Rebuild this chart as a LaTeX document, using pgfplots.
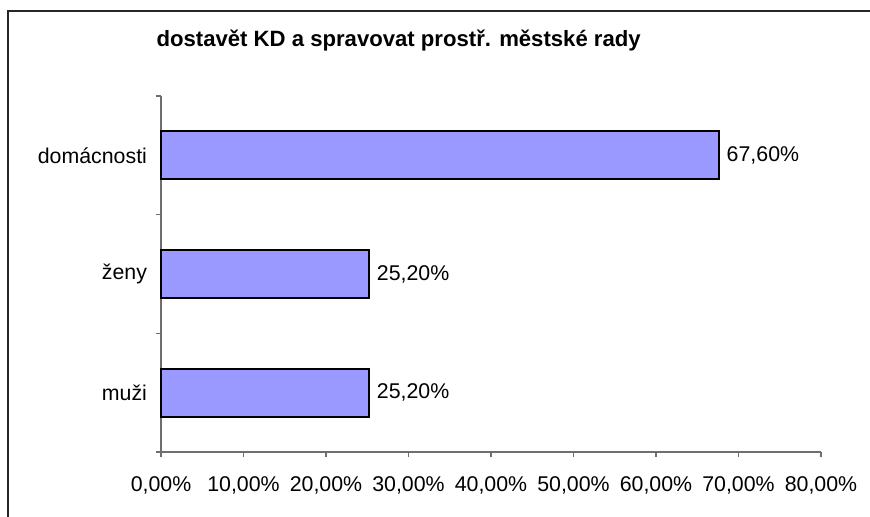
\documentclass[border=0pt]{standalone}
\usepackage{fontspec}
\setmainfont{Liberation Sans}
\usepackage{pgfplots}
\pgfplotsset{compat=1.18}
\definecolor{barfill}{RGB}{153,153,255}
\definecolor{axgray}{RGB}{110,110,110}
\begin{document}
\begin{tikzpicture}
\useasboundingbox (0pt,0pt) rectangle (652.5pt,387.75pt);
\draw[line width=1.5pt, black!85] (6pt,0pt) -- (6pt,379.5pt) -- (652.5pt,379.5pt);
\node[font={\fontsize{16.6pt}{19pt}\selectfont\bfseries}] at (299pt,357.5pt) {dostavět KD a spravovat prostř. městské rady};
\begin{axis}[
  at={(120.75pt,48.75pt)}, anchor=south west,
  scale only axis, width=495pt, height=267pt,
  xbar, bar width=0.405,
  xmin=0, xmax=80, ymin=-0.5, ymax=2.5,
  axis lines*=left,
  axis line style={axgray, line width=1pt},
  xtick={0,10,...,80},
  tick style={axgray, line width=1pt},
  major tick length=4pt,
  tick align=outside,
  xticklabel={\pgfmathprintnumber[fixed,fixed zerofill,precision=2,use comma]{\tick}\%},
  xticklabel style={yshift=-11pt},
  /pgf/number format/assume math mode=true,
  ytick={-0.5,0.5,1.5,2.5},
  yticklabels={},
  extra y ticks={0,1,2},
  extra y tick labels={muži,ženy,domácnosti},
  extra y tick style={major tick length=0pt, yticklabel style={xshift=-7pt}},
  tick label style={font=\fontsize{16pt}{19pt}\selectfont},
  nodes near coords={\pgfmathprintnumber[fixed,fixed zerofill,precision=2,use comma,assume math mode=true]{\pgfplotspointmeta}\%},
  nodes near coords style={font=\fontsize{16pt}{19pt}\selectfont, anchor=west, xshift=2pt},
  point meta=explicit,
  clip=false,
]
\addplot[fill=barfill, draw=black, line width=1.4pt] coordinates {
  (25.2,0) [25.2]
  (25.2,1) [25.2]
  (67.6,2) [67.6]
};
\end{axis}
\end{tikzpicture}
\end{document}
